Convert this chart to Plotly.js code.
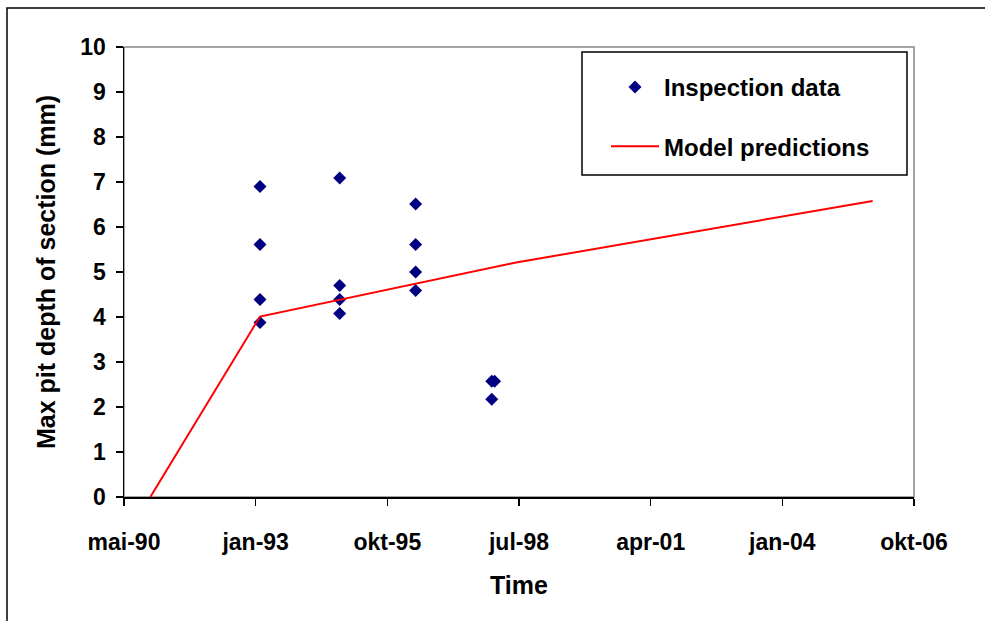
<!DOCTYPE html>
<html>
<head>
<meta charset="utf-8">
<script src="https://cdn.plot.ly/plotly-3.0.1.min.js"></script>
<style>html,body{margin:0;padding:0;background:#fff;}#chart{width:985px;height:621px;}</style>
</head>
<body>
<div id="chart"></div>
<script>
// Inspection data
const inspectionDates = [
  '1993-03-05','1993-03-05','1993-03-05','1993-03-05',
  '1994-10-31','1994-10-31','1994-10-31','1994-10-31',
  '1996-05-30','1996-05-30','1996-05-30','1996-05-30',
  '1997-12-29','1997-12-29','1998-01-20'
];
const inspectionDepth = [
  6.90, 5.61, 4.39, 3.88,
  7.09, 4.70, 4.39, 4.08,
  6.51, 5.61, 5.00, 4.59,
  2.57, 2.17, 2.57
];
// Model predictions
const modelDates = ['1990-11-23','1993-03-05','1998-07-01','2005-11-30'];
const modelDepth = [0, 4.01, 5.21, 6.58];
// Axis ticks (Excel 1000-day major unit)
const xTickVals = ['1990-05-07','1993-01-31','1995-10-28','1998-07-24','2001-04-19','2004-01-14','2006-10-10'];
const xTickText = ['mai-90','jan-93','okt-95','jul-98','apr-01','jan-04','okt-06'];

const W = 985, H = 621;
const M = {l:124, r:71, t:47, b:124};
const pw = W - M.l - M.r, ph = H - M.t - M.b;
const px = x => (x - M.l) / pw;
const py = y => (H - M.b - y) / ph;

const fam = 'Liberation Sans, Arial, sans-serif';
const tickFont = {family:fam, size:23, color:'#000', weight:'bold'};
const titleFont = {family:fam, size:25, color:'#000', weight:'bold'};
const legendFont = {family:fam, size:24, color:'#000', weight:'bold'};

const traces = [
  {
    x: inspectionDates, y: inspectionDepth, type:'scatter', mode:'markers',
    name:'Inspection data', legendgroup:'a',
    marker:{symbol:'diamond', size:10, color:'#000080'}
  },
  {
    x: modelDates, y: modelDepth, type:'scatter', mode:'lines',
    name:'Model predictions', legendgroup:'b',
    line:{color:'#ff0000', width:2}
  }
];

const layout = {
  width: W, height: H,
  margin: M,
  paper_bgcolor:'#fff', plot_bgcolor:'#fff',
  font: tickFont,
  showlegend: true,
  legend: {
    x: px(606), y: py(65), xanchor:'left', yanchor:'top',
    bgcolor:'rgba(0,0,0,0)', borderwidth:0,
    traceorder:'grouped', tracegroupgap: 25,
    itemwidth: 48,
    font: legendFont
  },
  xaxis: {
    type:'date',
    range:[xTickVals[0], xTickVals[xTickVals.length-1]],
    tickmode:'array', tickvals:xTickVals, ticktext:xTickText,
    ticks:'outside', ticklen:7, tickwidth:1.5, tickcolor:'#000',
    showline:true, linecolor:'#000', linewidth:1.5,
    showgrid:false, zeroline:false,
    ticklabelstandoff: 17,
    tickfont: tickFont,
    title:{text:'Time', font:titleFont, standoff: 22}
  },
  yaxis: {
    range:[0,10], dtick:1, tick0:0,
    ticks:'outside', ticklen:7, tickwidth:1.5, tickcolor:'#000',
    showline:true, linecolor:'#000', linewidth:1.5,
    showgrid:false, zeroline:false,
    ticklabelstandoff: 5,
    tickfont: tickFont,
    title:{text:'Max pit depth of section (mm)', font:titleFont, standoff: 17}
  },
  shapes: [
    {type:'rect', xref:'paper', yref:'paper', x0:px(7), x1:px(1000), y0:py(8), y1:py(640),
     line:{color:'#000', width:1.5}, layer:'below'},
    {type:'rect', xref:'paper', yref:'paper', x0:0, x1:1, y0:0, y1:1,
     line:{color:'#888', width:1.5}, layer:'below'},
    {type:'rect', xref:'paper', yref:'paper', x0:px(582), x1:px(907), y0:py(175), y1:py(52),
     line:{color:'#000', width:1.5}, fillcolor:'#fff', layer:'below'}
  ]
};

Plotly.newPlot('chart', traces, layout, {staticPlot:true, displayModeBar:false});
</script>
</body>
</html>
